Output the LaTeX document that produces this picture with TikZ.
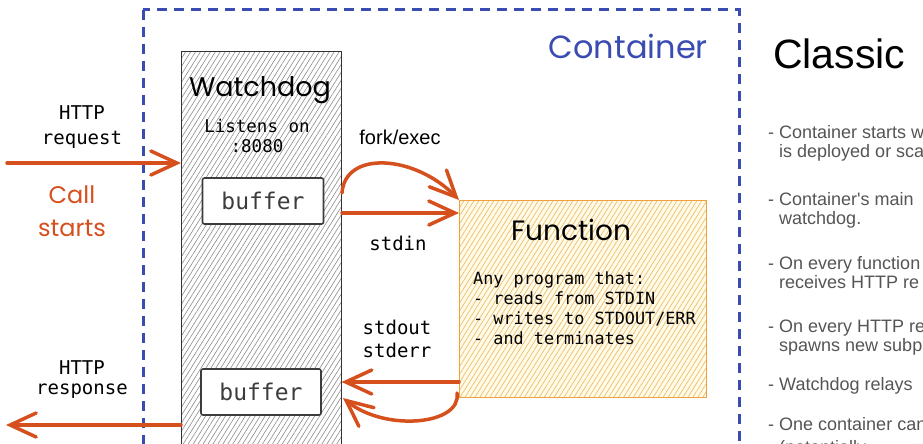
\documentclass[tikz,border=0pt]{standalone}
\usepackage{fontspec}
\setmainfont{Liberation Sans}
\newfontfamily\monofont{DejaVu Sans Mono}
\newfontfamily\handfont{Poppins}
\usetikzlibrary{arrows.meta,patterns.meta}
\definecolor{arrowor}{RGB}{214,80,30}
\definecolor{contblue}{RGB}{58,76,178}
\definecolor{fnstroke}{RGB}{240,160,60}
\definecolor{fnfill}{RGB}{255,251,232}
\definecolor{fnhatch}{RGB}{236,190,110}
\definecolor{bulletgray}{RGB}{85,85,85}
\definecolor{bufgray}{RGB}{60,60,60}
\tikzset{
  flow/.style={draw=arrowor, line width=3.5pt, line cap=round,
    -{Straight Barb[length=26pt,width=24pt,line cap=round]}},
  contline/.style={draw=contblue, line width=3pt, dash pattern=on 10pt off 7pt},
  wdbox/.style={draw=black!80, line width=1.3pt, preaction={fill=white},
    pattern={Lines[angle=58,distance=4.2pt,line width=0.6pt]}, pattern color=black!45,
    anchor=north west, inner sep=0pt},
  fnbox/.style={draw=fnstroke, line width=1.5pt, preaction={fill=fnfill},
    pattern={Lines[angle=58,distance=4.2pt,line width=0.7pt]}, pattern color=fnhatch,
    anchor=north west, inner sep=0pt},
  bufbox/.style={draw=bufgray, line width=1.6pt, fill=white, rounded corners=2pt,
    minimum height=46pt, text=bufgray, font=\monofont\fontsize{23}{26}\selectfont},
  lbl/.style={font=\monofont\fontsize{19}{22}\selectfont, text=black, inner sep=0pt, anchor=base},
  wdlbl/.style={font=\monofont\fontsize{17.5}{20}\selectfont, text=black, inner sep=0pt, anchor=base},
  hand/.style={font=\handfont\fontsize{#1}{#1}\selectfont, inner sep=0pt, anchor=base},
  sanslbl/.style={font=\fontsize{20}{24}\selectfont, inner sep=0pt, anchor=base},
  bullet/.style={font=\fontsize{18}{20}\selectfont, text=bulletgray, inner sep=0pt, anchor=base west},
}
\begin{document}
\begin{tikzpicture}[x=1pt,y=-1pt]
\useasboundingbox (0,0) rectangle (923,444);
\clip (0,0) rectangle (923,444);
\fill[white] (0,0) rectangle (923,444);

% container
\draw[contline] (143,10) rectangle (739,480);
\node[hand=32, text=contblue, anchor=base east] (conttitle) at (708,59) {Container};

% watchdog
\node[wdbox, minimum width=160pt, minimum height=440pt] (wd) at (181,51) {};
\node[hand=27, text=black] (wdtitle) at (260,96) {Watchdog};
\node[wdlbl] (listen) at (257,132) {Listens on};
\node[wdlbl] (port) at (257,152) {:8080};
\node[bufbox, minimum width=121pt] (buf1) at (263,201) {buffer};
\node[bufbox, minimum width=120pt] (buf2) at (261,392) {buffer};

% function
\node[fnbox, minimum width=247pt, minimum height=197pt] (fn) at (459,200) {};
\node[hand=28, text=black] (fntitle) at (571,240) {Function};
\node[font=\monofont\fontsize{16.8}{20}\selectfont, align=left, anchor=base west, inner sep=0pt] (fnbody) at (473,344)
  {Any program that:\\- reads from STDIN\\- writes to STDOUT/ERR\\- and terminates};

% left labels
\node[lbl] (reqa) at (82,119) {HTTP};
\node[lbl] (reqb) at (82,144) {request};
\node[hand=24, text=arrowor] (calla) at (72,203) {Call};
\node[hand=24, text=arrowor] (callb) at (72,236) {starts};
\node[lbl] (respa) at (82,374) {HTTP};
\node[lbl] (respb) at (82,394) {response};

% middle labels
\node[sanslbl] (forklbl) at (400,144) {fork/exec};
\node[lbl] (stdinlbl) at (398,250) {stdin};
\node[lbl] (stdoutlbl) at (397,334) {stdout};
\node[lbl] (stderrlbl) at (397,357) {stderr};

% connectors
\coordinate (reqS) at (7,163);
\draw[flow] (reqS) -- (reqS -| wd.west);
\coordinate (forkS) at (342,193);
\draw[flow] (forkS) .. controls (345,150) and (415,155) .. (fn.north west);
\coordinate (stdinS) at (342,213);
\draw[flow] (stdinS) -- (stdinS -| fn.west);
\coordinate (stdoutS) at (459,382);
\draw[flow] (stdoutS) -- (stdoutS -| wd.east);
\coordinate (retS) at (457,393);
\coordinate (retE) at (343,398);
\draw[flow] (retS) .. controls (462,425) and (385,432) .. (retE);
\coordinate (respE) at (6,425);
\draw[flow] (respE -| wd.west) -- (respE);

% right text
\node[font=\fontsize{41}{44}\selectfont, anchor=base west, inner sep=0pt] (classic) at (773,68) {Classic};
\node[bullet] (b1) at (768,138) {- Container starts w};
\node[bullet] (b2) at (779,157) {is deployed or sca};
\node[bullet] (b3) at (768,205) {- Container\textquotesingle s main};
\node[bullet] (b4) at (779,224) {watchdog.};
\node[bullet] (b5) at (768,269) {- On every function};
\node[bullet] (b6) at (779,288) {receives HTTP re};
\node[bullet] (b7) at (768,332) {- On every HTTP re};
\node[bullet] (b8) at (779,351) {spawns new subp};
\node[bullet] (b9) at (768,390) {- Watchdog relays};
\node[bullet] (b10) at (768,430) {- One container can};
\node[bullet] (b11) at (779,453) {(potentially};
\end{tikzpicture}
\end{document}
